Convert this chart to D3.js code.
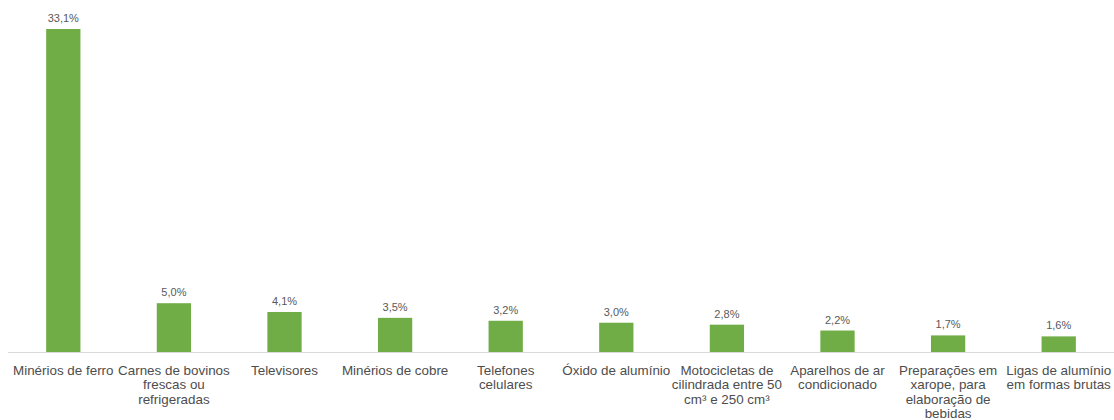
<!DOCTYPE html>
<html><head><meta charset="utf-8">
<script src="https://cdn.jsdelivr.net/npm/d3@7"></script>
<style>body{margin:0;background:#fff;} svg{display:block;}</style>
</head><body>
<svg id="chart" width="1114" height="420"></svg>
<script>
const categories = [
  "Minérios de ferro",
  "Carnes de bovinos\nfrescas ou\nrefrigeradas",
  "Televisores",
  "Minérios de cobre",
  "Telefones\ncelulares",
  "Óxido de alumínio",
  "Motocicletas de\ncilindrada entre 50\ncm³ e  250 cm³",
  "Aparelhos de ar\ncondicionado",
  "Preparações em\nxarope, para\nelaboração de\nbebidas",
  "Ligas de alumínio\nem formas brutas"
];
const values = [33.1, 5.0, 4.1, 3.5, 3.2, 3.0, 2.8, 2.2, 1.7, 1.6];
const valueLabels = ["33,1%","5,0%","4,1%","3,5%","3,2%","3,0%","2,8%","2,2%","1,7%","1,6%"];

(function(){
const svg = d3.select("#chart");
const left = 8, right = 1114, baseline = 352, topY = 29;
const font = "'Liberation Sans', Arial, sans-serif";

const x = d3.scaleBand().domain(d3.range(categories.length)).range([left, right]).paddingInner(0.69).paddingOuter(0.345);
const y = d3.scaleLinear().domain([0, 33.1]).range([baseline, topY]);

svg.append("g").selectAll("rect").data(values).join("rect")
  .attr("x", (d,i) => x(i)).attr("width", x.bandwidth())
  .attr("y", d => y(d)).attr("height", d => baseline - y(d))
  .attr("fill", "#70ad47");

svg.append("line").attr("x1", left).attr("x2", right).attr("y1", baseline+0.5).attr("y2", baseline+0.5)
  .attr("stroke", "#d9d9d9").attr("stroke-width", 1);

svg.append("g").selectAll("text").data(values).join("text")
  .attr("x", (d,i) => x(i) + x.bandwidth()/2)
  .attr("y", d => y(d) - 7)
  .attr("text-anchor", "middle")
  .attr("font-family", font).attr("font-size", 11).attr("fill", "#595959")
  .text((d,i) => valueLabels[i]);

const xAxis = svg.append("g");
categories.forEach((c, i) => {
  const cx = x(i) + x.bandwidth()/2;
  const t = xAxis.append("text")
    .attr("x", cx).attr("y", 374.5)
    .attr("text-anchor", "middle")
    .attr("font-family", font).attr("font-size", 13.4).attr("fill", "#4d4d4d");
  c.split("\n").forEach((line, j) => {
    t.append("tspan").attr("x", cx).attr("dy", j === 0 ? 0 : 14.6).text(line);
  });
});
})();
</script>
</body></html>
